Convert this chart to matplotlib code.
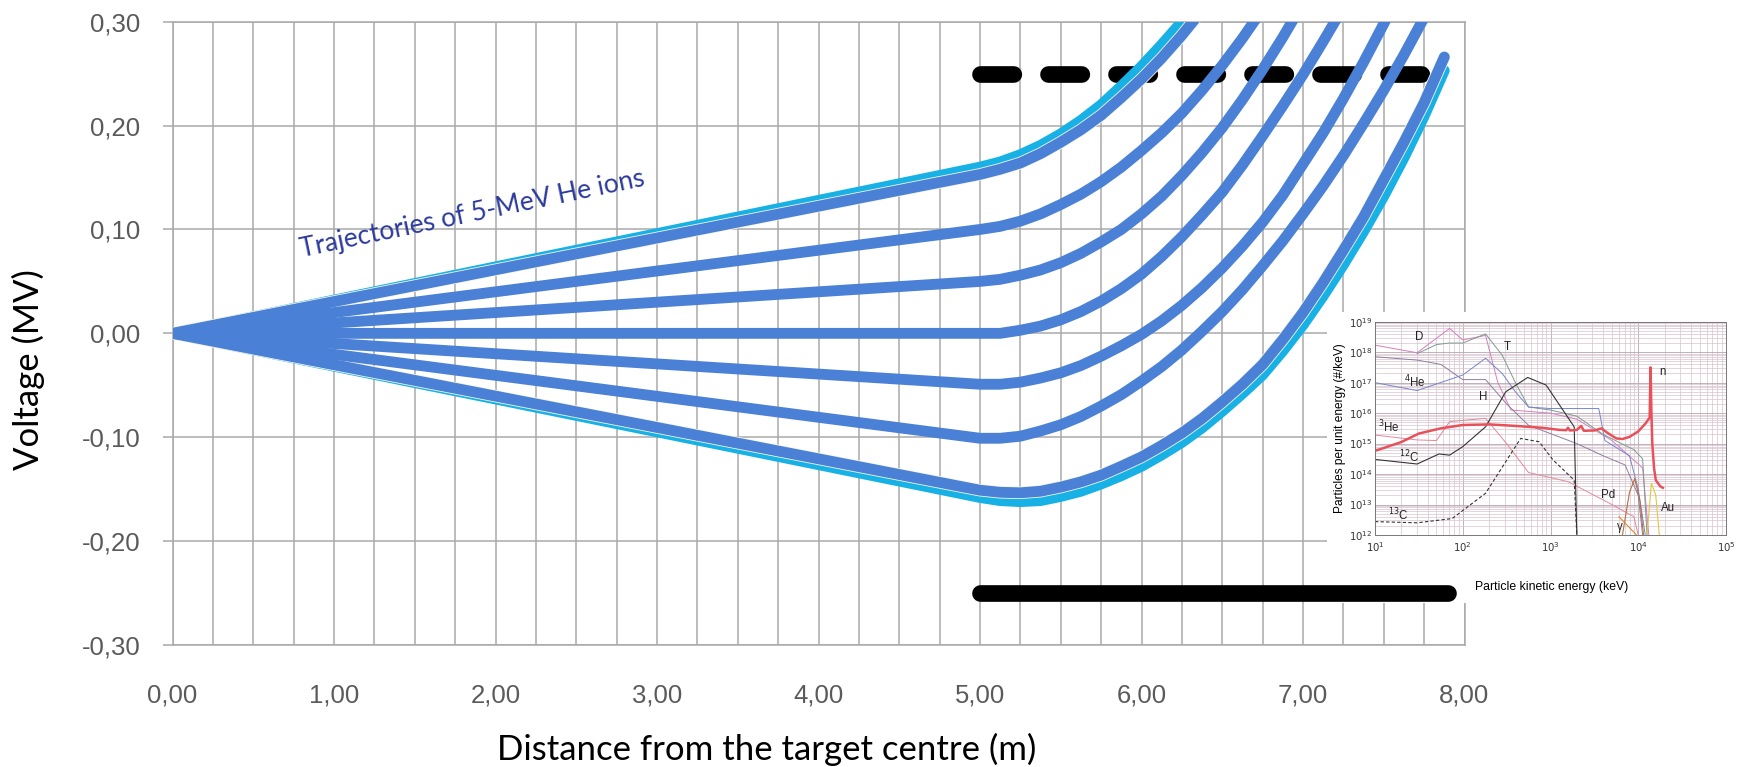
import matplotlib
matplotlib.use("Agg")
import numpy as np
import matplotlib.pyplot as plt
import matplotlib.patheffects as pe
from matplotlib.lines import Line2D
from matplotlib.ticker import FixedLocator, FuncFormatter, LogLocator, NullFormatter

# ---------------- main chart data ----------------
# distance from the target centre (m); straight drift to 5 m, then deflection
DIST = [0.0, 5.0, 5.125, 5.25, 5.375, 5.5, 5.625, 5.75, 5.875, 6.0, 6.125, 6.25,
        6.375, 6.5, 6.625, 6.75, 6.875, 7.0, 7.125, 7.25, 7.375, 7.5, 7.625, 7.75, 7.875]

# voltage (MV) along each ion trajectory
V_TOP_CYAN = [0.0, 0.160, 0.165, 0.172, 0.181, 0.192, 0.205, 0.220, 0.238, 0.257, 0.278,
              0.300, 0.324]
V_BOT_CYAN = [0.0, -0.158, -0.161, -0.162, -0.161, -0.157, -0.152, -0.145, -0.137, -0.128,
              -0.117, -0.105, -0.091, -0.075, -0.058, -0.040, -0.017, 0.008, 0.036, 0.066,
              0.098, 0.132, 0.169, 0.209, 0.253]
V_TRAJ_1 = [0.0, 0.153, 0.158, 0.164, 0.173, 0.184, 0.196, 0.210, 0.227, 0.245, 0.265,
            0.287, 0.311]
V_TRAJ_2 = [0.0, 0.100, 0.103, 0.108, 0.115, 0.124, 0.134, 0.146, 0.160, 0.176, 0.193,
            0.212, 0.234, 0.258, 0.284, 0.312]
V_TRAJ_3 = [0.0, 0.050, 0.052, 0.056, 0.061, 0.068, 0.077, 0.088, 0.100, 0.115, 0.132,
            0.152, 0.174, 0.198, 0.225, 0.254, 0.285, 0.318]
V_TRAJ_4 = [0.0, 0.0, 0.0, 0.003, 0.007, 0.013, 0.021, 0.031, 0.043, 0.057, 0.074, 0.093,
            0.114, 0.136, 0.162, 0.190, 0.219, 0.249, 0.281, 0.314]
V_TRAJ_5 = [0.0, -0.049, -0.049, -0.047, -0.043, -0.038, -0.031, -0.022, -0.012, -0.001,
            0.012, 0.027, 0.044, 0.063, 0.084, 0.107, 0.133, 0.163, 0.193, 0.226, 0.261,
            0.298, 0.337]
V_TRAJ_6 = [0.0, -0.101, -0.101, -0.099, -0.094, -0.088, -0.080, -0.070, -0.059, -0.046,
            -0.032, -0.016, 0.002, 0.021, 0.042, 0.065, 0.089, 0.115, 0.142, 0.171, 0.202,
            0.234, 0.268, 0.304, 0.340]
V_TRAJ_7 = [0.0, -0.151, -0.153, -0.1535, -0.152, -0.148, -0.143, -0.1365, -0.128, -0.119,
            -0.108, -0.096, -0.082, -0.066, -0.049, -0.030, -0.006, 0.020, 0.049, 0.080,
            0.112, 0.148, 0.184, 0.222, 0.266]

# electrode bars (m, MV)
ELECTRODE_X = [5.0, 7.9]
ELECTRODE_UPPER = 0.25
ELECTRODE_LOWER = -0.25

X_TICKS = [0, 1, 2, 3, 4, 5, 6, 7, 8]
Y_TICKS = [-0.3, -0.2, -0.1, 0.0, 0.1, 0.2, 0.3]

# ---------------- inset spectrum data (log10 keV, log10 #/keV) ----------------
N_E = [1.0, 1.3, 1.5, 1.75, 2.0, 2.3, 2.6, 2.9, 3.1, 3.18, 3.2, 3.22, 3.3, 3.35, 3.38,
       3.5, 3.58, 3.65, 3.75, 3.82, 3.9, 4.0, 4.08, 4.13, 4.14, 4.15, 4.16, 4.18, 4.2,
       4.25, 4.28]
N_N = [14.76, 15.05, 15.33, 15.5, 15.61, 15.63, 15.58, 15.52, 15.45, 15.44, 15.52, 15.43,
       15.45, 15.58, 15.42, 15.43, 15.5, 15.35, 15.17, 15.15, 15.22, 15.4, 15.65, 15.85,
       17.5, 16.0, 15.0, 14.2, 13.8, 13.6, 13.55]
C12_E = [1.0, 1.48, 1.73, 1.85, 2.0, 2.26, 2.49, 2.74, 2.95, 3.27, 3.3]
C12_N = [14.48, 14.33, 14.66, 14.62, 14.9, 15.55, 16.7, 17.17, 16.92, 15.55, 12.0]
C13_E = [1.0, 1.48, 1.88, 2.26, 2.66, 2.87, 3.03, 3.27, 3.3]
C13_N = [12.44, 12.4, 12.54, 13.37, 15.17, 15.06, 14.46, 13.8, 12.0]
HE4_E = [1.0, 1.48, 2.0, 2.26, 2.45, 2.6, 2.75, 3.0, 3.55, 3.62, 3.9, 4.0, 4.08]
HE4_N = [17.0, 16.74, 17.25, 17.8, 17.3, 16.7, 16.2, 16.15, 16.15, 15.1, 14.6, 13.5, 12.0]
T_E = [1.48, 1.7, 1.85, 2.0, 2.26, 2.45, 2.6, 2.75, 3.0, 3.3, 3.6, 3.95, 4.05, 4.1]
T_N = [17.95, 18.25, 18.3, 18.3, 18.6, 17.9, 17.0, 16.2, 16.1, 15.9, 15.3, 14.8, 14.5, 12.0]
D_E = [1.0, 1.48, 1.85, 2.0, 2.26, 2.4, 2.55, 3.0, 3.3, 3.7, 4.05, 4.12]
D_N = [18.23, 17.98, 18.78, 18.4, 18.55, 17.0, 16.1, 16.0, 15.8, 15.1, 14.2, 12.0]
H_E = [1.0, 1.48, 1.75, 2.0, 2.26, 2.5, 2.75, 3.3, 3.6, 3.85, 4.0, 4.05]
H_N = [17.85, 17.74, 17.6, 17.1, 17.1, 16.3, 15.6, 15.0, 14.6, 14.3, 13.3, 12.0]
HE3_E = [1.0, 1.48, 1.7, 1.85, 2.26, 2.5, 2.75, 3.2, 3.7, 3.95, 4.0]
HE3_N = [15.28, 15.12, 15.1, 15.72, 15.83, 15.0, 14.05, 13.75, 13.0, 12.6, 12.0]
PD_E = [3.82, 3.9, 3.96, 4.02, 4.06]
PD_N = [12.0, 13.4, 13.85, 13.1, 12.0]
AU_E = [4.1, 4.15, 4.2, 4.24]
AU_N = [12.0, 13.7, 13.3, 12.0]
GAMMA_E = [3.78, 3.88, 3.98]
GAMMA_N = [12.6, 12.3, 12.0]

# species labels placed on the spectrum (log10 keV, log10 #/keV)
SPECIES = [("D", 1.50, 18.51), ("T", 2.51, 18.18), ("$^4$He", 1.46, 17.03),
           ("H", 2.23, 16.54), ("$^3$He", 1.16, 15.55), ("$^{12}$C", 1.39, 14.57),
           ("$^{13}$C", 1.27, 12.65), ("n", 4.28, 17.36), ("Pd", 3.66, 13.31),
           ("Au", 4.34, 12.87), ("γ", 3.79, 12.27)]

# ---------------- figure ----------------
W, H = 1741, 767
fig = plt.figure(figsize=(W / 100, H / 100), dpi=100)
fig.patch.set_facecolor("white")


def fx(px):
    return px / W


def fy(py):
    return 1 - py / H


ax_l, ax_r, ax_t, ax_b = 172.5, 1464.5, 21.7, 645.0
ax = fig.add_axes([fx(ax_l), fy(ax_b), fx(ax_r - ax_l), (ax_b - ax_t) / H])
ax.set_xlim(0, 8)
ax.set_ylim(-0.30, 0.30)

grid_c = "#a9a9a9"
ax.xaxis.set_major_locator(FixedLocator(X_TICKS))
ax.xaxis.set_minor_locator(FixedLocator(list(np.arange(0, 8.01, 0.25))))
ax.yaxis.set_major_locator(FixedLocator(Y_TICKS))
ax.grid(True, which="both", axis="x", color=grid_c, lw=1.1)
ax.grid(True, which="major", axis="y", color=grid_c, lw=1.1)
for s in ax.spines.values():
    s.set_color(grid_c)
    s.set_linewidth(1.1)


def comma_fmt(v, _pos):
    if abs(v) < 1e-9:
        v = 0.0
    return f"{v:.2f}".replace(".", ",")


ax.xaxis.set_major_formatter(FuncFormatter(comma_fmt))
ax.yaxis.set_major_formatter(FuncFormatter(comma_fmt))
ax.tick_params(axis="x", which="both", length=0, pad=28, labelsize=18.5, labelcolor="#5a5a5a")
ax.tick_params(axis="y", which="major", length=7.2, width=1.1, color=grid_c, pad=16,
               labelsize=18.5, labelcolor="#5a5a5a")
for lab in ax.get_xticklabels() + ax.get_yticklabels():
    lab.set_family("Liberation Sans")

# upper (dashed) electrode
ax.plot(ELECTRODE_X, [ELECTRODE_UPPER] * 2, color="black", lw=12, dashes=(2.0, 2.08),
        dash_capstyle="round", zorder=2)

cyan = "#17b1e6"
blue = "#4a80d6"
lw_traj = 7.8
for v in (V_TOP_CYAN, V_BOT_CYAN):
    ax.plot(DIST[:len(v)], v, color=cyan, lw=lw_traj, solid_capstyle="round",
            solid_joinstyle="round", zorder=3)
for v in (V_TRAJ_1, V_TRAJ_7):
    ax.plot(DIST[:len(v)], v, color=blue, lw=lw_traj, solid_capstyle="round",
            solid_joinstyle="round", zorder=4,
            path_effects=[pe.Stroke(linewidth=lw_traj + 1.2, foreground="#f4f6e8"), pe.Normal()])
for v in (V_TRAJ_2, V_TRAJ_3, V_TRAJ_4, V_TRAJ_5, V_TRAJ_6):
    ax.plot(DIST[:len(v)], v, color=blue, lw=lw_traj, solid_capstyle="round",
            solid_joinstyle="round", zorder=5)

fig.text(fx(301.7), fy(256.7), "Trajectories of 5-MeV He ions", family="Lato",
         fontsize=19, color="#2b3a9c", rotation=11.75, rotation_mode="anchor",
         ha="left", va="baseline")

fig.text(fx(767), fy(749), "Distance from the target centre (m)", family="Lato",
         fontsize=25, color="black", ha="center", va="center")
fig.text(fx(28), fy(370), "Voltage (MV)", family="Lato", fontsize=25, color="black",
         rotation=90, ha="center", va="center")

# ---------------- inset spectrum ----------------
bg = fig.add_axes([fx(1327), fy(603), fx(W - 1327), (603 - 312) / H])
bg.set_facecolor("white")
bg.set_xticks([])
bg.set_yticks([])
for s in bg.spines.values():
    s.set_visible(False)
bg.set_zorder(10)

ins_l, ins_r, ins_t, ins_b = 1375, 1726, 321.7, 535
ins = fig.add_axes([fx(ins_l), fy(ins_b), fx(ins_r - ins_l), (ins_b - ins_t) / H])
ins.set_zorder(11)
ins.set_xscale("log")
ins.set_yscale("log")
ins.set_xlim(1e1, 1e5)
ins.set_ylim(1e12, 1e19)
ins.xaxis.set_major_locator(LogLocator(base=10, numticks=10))
ins.yaxis.set_major_locator(LogLocator(base=10, numticks=10))
ins.xaxis.set_minor_locator(LogLocator(base=10, subs=np.arange(2, 10), numticks=20))
ins.yaxis.set_minor_locator(LogLocator(base=10, subs=np.arange(2, 10), numticks=20))
ins.xaxis.set_minor_formatter(NullFormatter())
ins.yaxis.set_minor_formatter(NullFormatter())
ins.grid(True, which="minor", color="#d9c3cf", lw=0.5)
ins.grid(True, which="major", color="#b9a3af", lw=0.6)
for s in ins.spines.values():
    s.set_color("#777777")
    s.set_linewidth(0.7)
ins.tick_params(which="both", length=0, labelsize=7.3, labelcolor="#333333")
ins.tick_params(axis="x", pad=4)
ins.tick_params(axis="y", pad=2)


def lp(ex, ny, **kw):
    ins.plot(np.power(10.0, ex), np.power(10.0, ny), **kw)


lp(D_E, D_N, color="#d47fbf", lw=0.7)
lp(T_E, T_N, color="#7d9a8f", lw=0.7)
lp(H_E, H_N, color="#8c7ea0", lw=0.7)
lp(HE4_E, HE4_N, color="#7486c8", lw=0.7)
lp(HE3_E, HE3_N, color="#e08a9a", lw=0.7)
lp(C12_E, C12_N, color="#333333", lw=0.8)
lp(C13_E, C13_N, color="#333333", lw=0.8, ls=(0, (3, 2)))
lp(PD_E, PD_N, color="#b8703c", lw=0.8)
lp(AU_E, AU_N, color="#e3c545", lw=0.8)
lp(GAMMA_E, GAMMA_N, color="#e08a3a", lw=0.8)
lp(N_E, N_N, color="#e8505a", lw=1.8)

for txt, ex, ny in SPECIES:
    ins.text(10 ** ex, 10 ** ny, txt, fontsize=8.3, color="#222222",
             family="Liberation Sans", ha="center", va="center")

ins.set_ylabel("Particles per unit energy (#/keV)", fontsize=8.6, family="Liberation Sans",
               labelpad=2)
fig.text(fx(1552), fy(587), "Particle kinetic energy (keV)", fontsize=8.8,
         family="Liberation Sans", ha="center", va="center", zorder=12)

# lower (solid) electrode, drawn above the inset panel
fig.add_artist(Line2D(ELECTRODE_X, [ELECTRODE_LOWER] * 2, transform=ax.transData,
                      color="black", lw=12, solid_capstyle="round", zorder=13))

fig.savefig("out.png", dpi=100, facecolor="white")
